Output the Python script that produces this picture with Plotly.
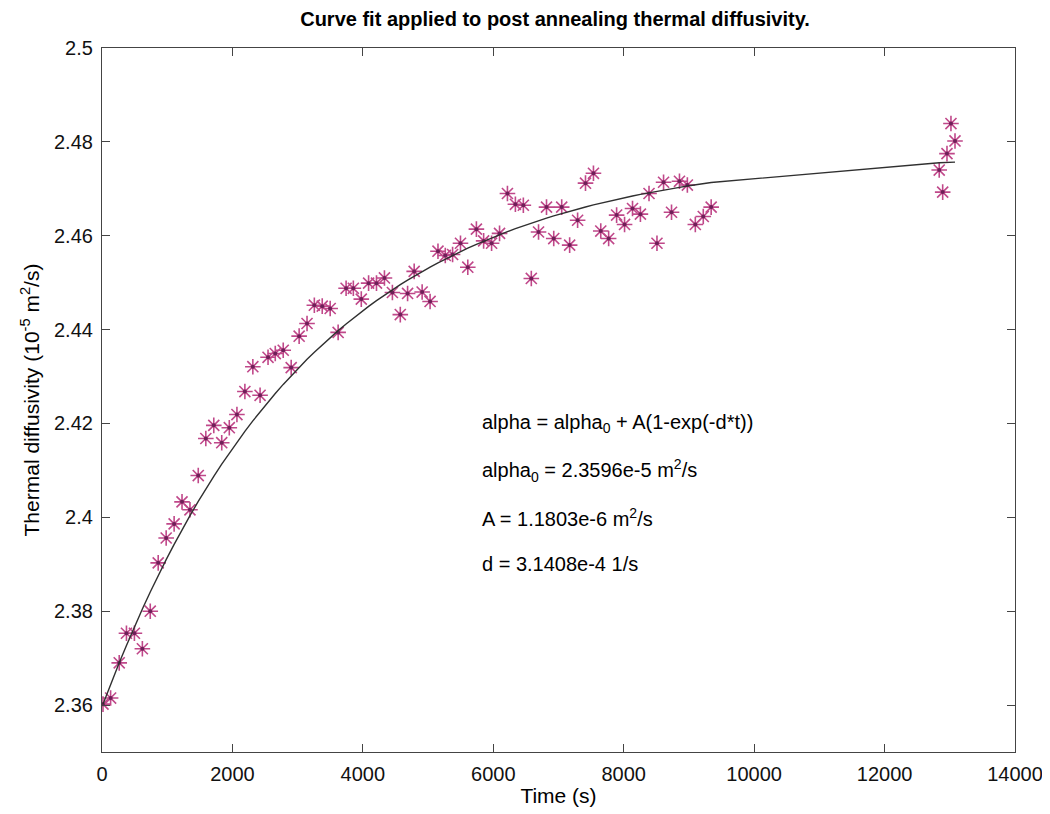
import math
import plotly.graph_objects as go

# Measured data (time in s, thermal diffusivity in 1e-5 m^2/s)
time_s = [15, 132, 264, 375, 497, 619, 740, 862, 984, 1106, 1227, 1349, 1476, 1592,
          1714, 1836, 1952, 2069, 2191, 2313, 2424, 2546, 2657, 2779, 2901, 3023,
          3144, 3256, 3377, 3499, 3621, 3743, 3854, 3976, 4088, 4209, 4331, 4453,
          4574, 4686, 4787, 4909, 5031, 5152, 5264, 5376, 5497, 5609, 5741, 5852,
          5974, 6096, 6217, 6339, 6461, 6583, 6694, 6816, 6927, 7049, 7171, 7293,
          7414, 7536, 7648, 7769, 7891, 8013, 8135, 8256, 8388, 8510, 8611, 8733,
          8855, 8976, 9098, 9220, 9341, 12838, 12891, 12957, 13018, 13080]
diffusivity = [2.3602, 2.3615, 2.3690, 2.3753, 2.3753, 2.3720, 2.3800, 2.3903, 2.3956,
               2.3986, 2.4033, 2.4016, 2.4089, 2.4168, 2.4196, 2.4159, 2.4191, 2.4219,
               2.4268, 2.4321, 2.4260, 2.4341, 2.4349, 2.4356, 2.4319, 2.4386, 2.4413,
               2.4452, 2.4450, 2.4445, 2.4394, 2.4488, 2.4488, 2.4465, 2.4499, 2.4499,
               2.4510, 2.4479, 2.4432, 2.4477, 2.4524, 2.4480, 2.4460, 2.4567, 2.4558,
               2.4560, 2.4584, 2.4533, 2.4614, 2.4589, 2.4584, 2.4605, 2.4690, 2.4667,
               2.4665, 2.4509, 2.4608, 2.4661, 2.4594, 2.4661, 2.4580, 2.4633, 2.4712,
               2.4733, 2.4610, 2.4594, 2.4644, 2.4624, 2.4658, 2.4646, 2.4690, 2.4584,
               2.4714, 2.4650, 2.4716, 2.4708, 2.4624, 2.4641, 2.4661, 2.4740, 2.4693,
               2.4775, 2.4839, 2.4802]

# Fit parameters shown on the chart (alpha in 1e-5 m^2/s)
alpha0 = 2.3596
amp_A = 0.11803
rate_d = 3.1408e-4

fit_vals = [alpha0 + amp_A * (1 - math.exp(-rate_d * t)) for t in time_s]

x_ticks = [0, 2000, 4000, 6000, 8000, 10000, 12000, 14000]
x_tick_labels = ["0", "2000", "4000", "6000", "8000", "10000", "12000", "14000"]
y_ticks = [2.36, 2.38, 2.40, 2.42, 2.44, 2.46, 2.48, 2.50]
y_tick_labels = ["2.36", "2.38", "2.4", "2.42", "2.44", "2.46", "2.48", "2.5"]

eq_lines = [
    "alpha = alpha<sub>0</sub> + A(1-exp(-d*t))",
    "alpha<sub>0</sub> = 2.3596e-5 m<sup>2</sup>/s",
    "A = 1.1803e-6 m<sup>2</sup>/s",
    "d = 3.1408e-4 1/s",
]
eq_y = [2.42, 2.41, 2.40, 2.39]

FONT = "Liberation Sans, Arial, Helvetica"

fig = go.Figure()
fig.add_trace(go.Scatter(
    x=time_s, y=diffusivity, mode="markers",
    marker=dict(symbol="asterisk-open", size=13, color="#c0488a",
                line=dict(color="#c0488a", width=1.6)),
    showlegend=False))
fig.add_trace(go.Scatter(
    x=time_s, y=diffusivity, mode="markers",
    marker=dict(symbol="circle", size=4, color="#6e2058", line=dict(width=0)),
    showlegend=False, hoverinfo="skip"))
fig.add_trace(go.Scatter(
    x=time_s, y=fit_vals, mode="lines",
    line=dict(color="#303030", width=1.4), showlegend=False))

for txt, yy in zip(eq_lines, eq_y):
    fig.add_annotation(x=5800, y=yy, xref="x", yref="y", text=txt, showarrow=False,
                       xanchor="left", yanchor="middle",
                       font=dict(family=FONT, size=20, color="black"))

axis_common = dict(showgrid=False, zeroline=False, showline=True, linecolor="#444",
                   linewidth=1.2, mirror="ticks", ticks="inside", ticklen=8,
                   tickcolor="#444", ticklabelstandoff=4,
                   tickfont=dict(family=FONT, size=20, color="#111"))

fig.update_layout(
    width=1050, height=814,
    paper_bgcolor="white", plot_bgcolor="white",
    margin=dict(l=94, r=43, t=40, b=70),
    title=dict(text="<b>Curve fit applied to post annealing thermal diffusivity.</b>",
               x=0.521, xanchor="center", y=0.987, yanchor="middle",
               font=dict(family=FONT, size=20, color="black")),
    xaxis=dict(range=[0, 14000], tickvals=x_ticks, ticktext=x_tick_labels,
               title=dict(text="Time (s)", standoff=4,
                          font=dict(family=FONT, size=21, color="black")),
               **axis_common),
    yaxis=dict(range=[2.35, 2.5], tickvals=y_ticks, ticktext=y_tick_labels,
               title=dict(text="Thermal diffusivity (10<sup>-5</sup> m<sup>2</sup>/s)", standoff=8,
                          font=dict(family=FONT, size=21, color="black")),
               **axis_common),
)

fig.write_html("out.html")
